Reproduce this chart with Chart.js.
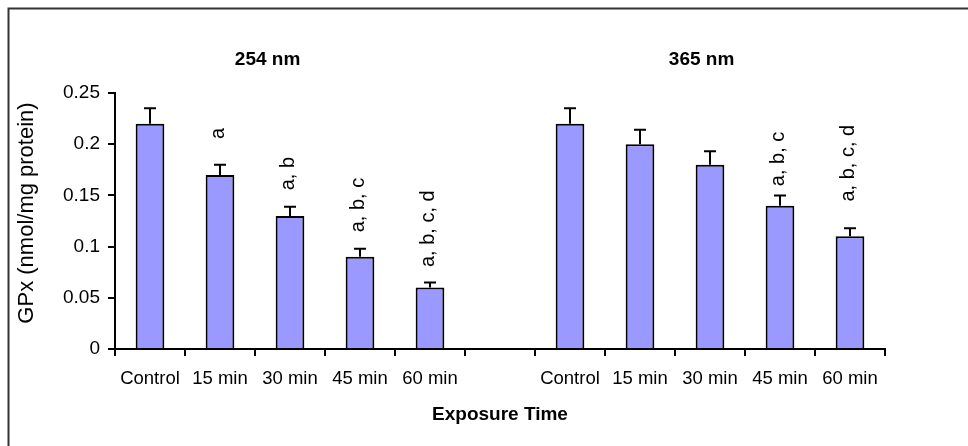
<!DOCTYPE html>
<html>
<head>
<meta charset="utf-8">
<script src="https://cdn.jsdelivr.net/npm/chart.js@4.4.1/dist/chart.umd.min.js"></script>
<style>
    html, body { margin:0; padding:0; background:#fff; }
    #wrap { position:relative; width:968px; height:446px; }
</style>
</head>
<body>
<div id="wrap"><canvas id="chartGpx"></canvas></div>
<script>
// GPx activity vs exposure time, 254 nm (left) and 365 nm (right)
const CATEGORIES = ['Control','15 min','30 min','45 min','60 min','','Control','15 min','30 min','45 min','60 min'];
const GPX_MEAN   = [0.22, 0.17, 0.13, 0.09, 0.06, null, 0.22, 0.20, 0.18, 0.14, 0.11];
const GPX_ERR    = [0.015, 0.01, 0.009, 0.008, 0.005, null, 0.015, 0.014, 0.013, 0.010, 0.008];
// significance letters and the value where each (vertical) label starts
const SIG_TEXT   = ['', 'a', 'a, b', 'a, b, c', 'a, b, c, d', '', '', '', '', 'a, b, c', 'a, b, c, d'];
const SIG_AT     = [null, 0.205, 0.155, 0.114, 0.080, null, null, null, null, 0.159, 0.144];
const Y_TICKS    = ['0','0.05','0.1','0.15','0.2','0.25'];
const GROUPS     = ['254 nm', '365 nm'];

const FONT = '"Liberation Sans", Arial, sans-serif';

const extras = {
    id: 'gpxExtras',
    afterDatasetsDraw(chart) {
        const ctx = chart.ctx;
        const x = chart.scales.x, y = chart.scales.y;
        ctx.save();

        // error bars (upper only)
        ctx.strokeStyle = '#000';
        ctx.lineWidth = 2;
        GPX_MEAN.forEach((v, i) => {
            if (v == null) return;
            const cx = x.getPixelForValue(i);
            const y0 = y.getPixelForValue(v);
            const y1 = y.getPixelForValue(v + GPX_ERR[i]);
            ctx.beginPath();
            ctx.moveTo(cx, y0); ctx.lineTo(cx, y1);
            ctx.moveTo(cx - 6, y1); ctx.lineTo(cx + 6, y1);
            ctx.stroke();
        });

        // significance labels, rotated
        ctx.fillStyle = '#000';
        ctx.font = '20px ' + FONT;
        ctx.textAlign = 'left';
        ctx.textBaseline = 'alphabetic';
        SIG_TEXT.forEach((t, i) => {
            if (!t) return;
            ctx.save();
            ctx.translate(x.getPixelForValue(i), y.getPixelForValue(SIG_AT[i]));
            ctx.rotate(-Math.PI / 2);
            ctx.fillText(t, 0, 4);
            ctx.restore();
        });

        // group headers
        ctx.font = 'bold 19px ' + FONT;
        ctx.textAlign = 'center';
        ctx.textBaseline = 'middle';
        ctx.fillText(GROUPS[0], x.getPixelForValue(1.68), 60);
        ctx.fillText(GROUPS[1], x.getPixelForValue(7.88), 60);

        // y axis title
        ctx.save();
        ctx.font = '22px ' + FONT;
        ctx.translate(27, 213);
        ctx.rotate(-Math.PI / 2);
        ctx.fillText('GPx (nmol/mg protein)', 0, 0);
        ctx.restore();

        // outer frame (left + top visible)
        ctx.strokeStyle = '#333';
        ctx.lineWidth = 2;
        ctx.strokeRect(8.5, 8.5, 970, 460);
        ctx.restore();
    }
};

new Chart(document.getElementById('chartGpx'), {
    type: 'bar',
    data: {
        labels: CATEGORIES,
        datasets: [{
            data: GPX_MEAN,
            backgroundColor: '#9999FF',
            borderColor: '#000',
            borderWidth: 2,
            borderSkipped: 'start',
            categoryPercentage: 1,
            barPercentage: 0.41
        }]
    },
    options: {
        responsive: true,
        maintainAspectRatio: false,
        animation: false,
        layout: { padding: { top: 93, right: 83, bottom: 0, left: 0 } },
        plugins: { legend: { display: false }, tooltip: { enabled: false } },
        scales: {
            x: {
                afterFit: s => { s.height = 97; },
                grid: { drawOnChartArea: false, drawTicks: true, tickLength: 7, color: '#000', lineWidth: 2, offset: true },
                border: { color: '#000', width: 2 },
                ticks: { color: '#000', font: { family: FONT, size: 18.5 }, padding: 12, autoSkip: false, maxRotation: 0 },
                title: { display: true, text: 'Exposure Time', color: '#000', font: { family: FONT, size: 19, weight: 'bold' }, padding: { top: 0, bottom: 20 } }
            },
            y: {
                min: 0, max: 0.25,
                afterFit: s => { s.width = 115; },
                grid: { drawOnChartArea: false, drawTicks: true, tickLength: 7, color: '#000', lineWidth: 2 },
                border: { color: '#000', width: 2 },
                ticks: { stepSize: 0.05, color: '#000', font: { family: FONT, size: 19 }, padding: 8,
                    callback: (v, i) => Y_TICKS[i] }
            }
        }
    },
    plugins: [extras]
});
</script>
</body>
</html>
